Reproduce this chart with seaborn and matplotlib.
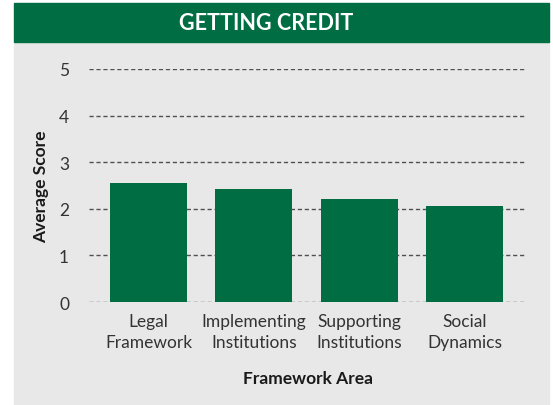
import matplotlib
matplotlib.use("Agg")
import matplotlib.pyplot as plt
import matplotlib.patches as mpatches
import pandas as pd
import seaborn as sns

# values
areas = ["Legal\nFramework", "Implementing\nInstitutions", "Supporting\nInstitutions", "Social\nDynamics"]
scores = [2.56, 2.43, 2.22, 2.07]
yticks = [0, 1, 2, 3, 4, 5]

df = pd.DataFrame({"area": areas, "score": scores})

sns.set_theme(style="white")
plt.rcParams["font.family"] = ["Lato", "DejaVu Sans"]

W, H = 553, 406
fig = plt.figure(figsize=(W / 100, H / 100), dpi=100)
fig.patch.set_facecolor("white")

# grey panel and green header band
fig.add_artist(mpatches.Rectangle((14 / W, 0), (549 - 14) / W, 1 - 43 / H,
                                  transform=fig.transFigure, color="#e8e8e8", zorder=-2))
fig.add_artist(mpatches.Rectangle((14 / W, 1 - 43 / H), (549 - 14) / W, 39 / H,
                                  transform=fig.transFigure, color="#006d43", zorder=-2))
fig.text(266 / W, 1 - 24 / H, "GETTING CREDIT", color="white", fontsize=15.5,
         fontweight="bold", ha="center", va="center")

ax = fig.add_axes([89 / W, 1 - 303 / H, (527 - 89) / W, (303 - 70) / H])
ax.set_zorder(2)
ax.set_facecolor("none")

sns.barplot(data=df, x="area", y="score", color="#006d43", saturation=1,
            width=0.73, linewidth=0, ax=ax, zorder=3)

ax.set_ylim(0, 5)
ax.set_xlim(-0.565, 3.594)
ax.set_yticks(yticks)
ax.yaxis.grid(True, linestyle=(0, (3, 2)), color="#505050", linewidth=1, zorder=1)
ax.set_axisbelow(True)
for s in ax.spines.values():
    s.set_visible(False)
ax.tick_params(axis="both", length=0, labelsize=12.5, labelcolor="#333333")
ax.tick_params(axis="y", pad=18)
ax.tick_params(axis="x", pad=8)
for lab in ax.get_yticklabels():
    lab.set_ha("center")
for lab in ax.get_xticklabels():
    lab.set_linespacing(1.35)

ax.set_xlabel("Framework Area", fontsize=12.5, fontweight="bold", color="#1a1a1a", labelpad=15)
ax.set_ylabel("Average Score", fontsize=12.5, fontweight="bold", color="#1a1a1a", labelpad=7)

fig.savefig("out.png", dpi=100)
